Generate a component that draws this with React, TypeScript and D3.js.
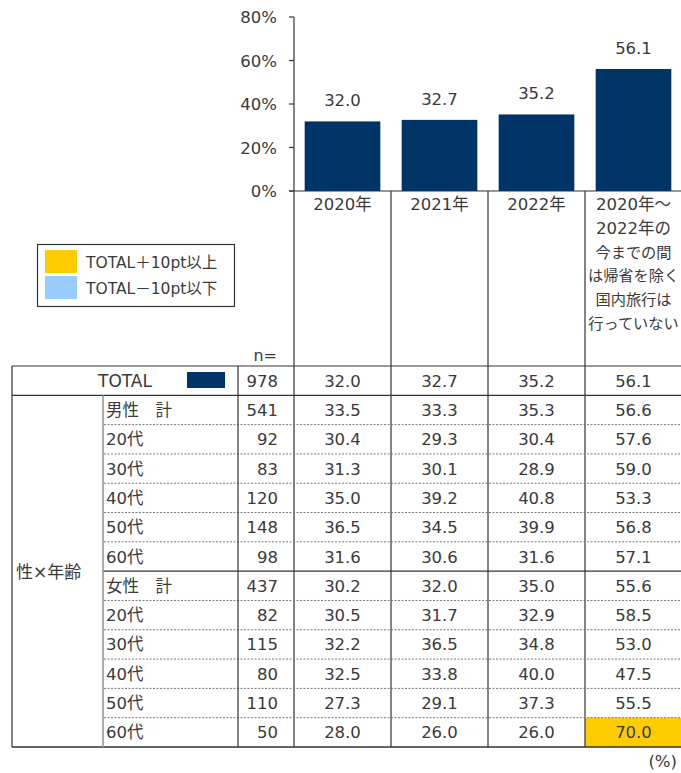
import React from "react";
import * as d3 from "d3";

const categories = ["2020年", "2021年", "2022年", "2020年～"];
const headerLines = [
  ["2020年"],
  ["2021年"],
  ["2022年"],
  ["2020年～", "2022年の", "今までの間", "は帰省を除く", "国内旅行は", "行っていない"],
];
const totalN = 978;
const totalValues = [32.0, 32.7, 35.2, 56.1];
const yTicks = [0, 20, 40, 60, 80];

const groupLabel = "性×年齢";
const rowLabels = ["男性\u3000計", "20代", "30代", "40代", "50代", "60代", "女性\u3000計", "20代", "30代", "40代", "50代", "60代"];
const rowN = [541, 92, 83, 120, 148, 98, 437, 82, 115, 80, 110, 50];
const col2020 = [33.5, 30.4, 31.3, 35.0, 36.5, 31.6, 30.2, 30.5, 32.2, 32.5, 27.3, 28.0];
const col2021 = [33.3, 29.3, 30.1, 39.2, 34.5, 30.6, 32.0, 31.7, 36.5, 33.8, 29.1, 26.0];
const col2022 = [35.3, 30.4, 28.9, 40.8, 39.9, 31.6, 35.0, 32.9, 34.8, 40.0, 37.3, 26.0];
const colNone = [56.6, 57.6, 59.0, 53.3, 56.8, 57.1, 55.6, 58.5, 53.0, 47.5, 55.5, 70.0];

const legendItems = [
  { label: "TOTAL＋10pt以上", color: "#FFCC00" },
  { label: "TOTAL－10pt以下", color: "#99CCFF" },
];

const W = 681;
const H = 773;
const NAVY = "#003366";
const TEXT = "#3a3a3a";
const LINE = "#333333";
const FONT = "'DejaVu Sans', Verdana, 'Noto Sans CJK JP', sans-serif";

export default function App() {
  const columns = [col2020, col2021, col2022, colNone];
  const x = d3.scaleBand<string>().domain(categories).range([294, 682]).paddingInner(0.22).paddingOuter(0.11);
  const step = x.step();
  const colLeft = (i: number) => 294 + i * step;
  const y = d3.scaleLinear().domain([0, 80]).range([191, 17]);

  const tableTop = 366;
  const tableBottom = 747;
  const rowH = (tableBottom - tableTop) / (rowLabels.length + 1);
  const rowTop = (i: number) => tableTop + rowH * (i + 1);
  const rowMid = (i: number) => rowTop(i) + rowH / 2;

  const cellColor = (v: number, ci: number) => {
    if (v >= totalValues[ci] + 10) return "#FFCC00";
    if (v <= totalValues[ci] - 10) return "#99CCFF";
    return null;
  };

  return (
    <svg width={W} height={H} style={{ position: "absolute", left: 0, top: 0, background: "#fff" }} fontFamily={FONT}>
      <rect x={0} y={0} width={W} height={H} fill="#fff" />
      {columns.map((col, ci) =>
        col.map((v, ri) => {
          const c = cellColor(v, ci);
          return c ? (
            <rect key={`h${ci}-${ri}`} x={colLeft(ci)} y={rowTop(ri)} width={step} height={rowH} fill={c} />
          ) : null;
        })
      )}
      <line x1={294} x2={294} y1={y(80)} y2={y(0)} stroke={LINE} strokeWidth={1.2} />
      <line x1={289} x2={W} y1={y(0)} y2={y(0)} stroke={LINE} strokeWidth={1.2} />
      {yTicks.map((t) => (
        <g key={t}>
          <line x1={289} x2={294} y1={y(t)} y2={y(t)} stroke={LINE} strokeWidth={1.2} />
          <text x={277} y={y(t) + 6} textAnchor="end" fontSize={16.5} fill={TEXT}>
            {t}%
          </text>
        </g>
      ))}
      {categories.map((c, i) => (
        <g key={c}>
          <rect x={x(c)} y={y(totalValues[i])} width={x.bandwidth()} height={y(0) - y(totalValues[i])} fill={NAVY} />
          <text x={(x(c) as number) + x.bandwidth() / 2} y={y(totalValues[i]) - 15} textAnchor="middle" fontSize={16.5} fill={TEXT}>
            {totalValues[i].toFixed(1)}
          </text>
        </g>
      ))}
      {categories.map((c, i) => (
        <line key={`v${i}`} x1={colLeft(i)} x2={colLeft(i)} y1={y(0)} y2={tableBottom} stroke={LINE} strokeWidth={1.2} />
      ))}
      {headerLines.map((lines, i) =>
        lines.map((l, li) => (
          <text key={`hl${i}-${li}`} x={colLeft(i) + step / 2} y={210 + li * 23.8} textAnchor="middle"
            fontSize={/\d/.test(l) ? 16.5 : 15.2} fill={TEXT}>
            {l}
          </text>
        ))
      )}
      <text x={277} y={361} textAnchor="end" fontSize={16} fill={TEXT}>n=</text>

      <rect x={37.5} y={244.5} width={197} height={62} fill="#fff" stroke={LINE} strokeWidth={1.2} />
      {legendItems.map((d, i) => (
        <g key={d.label}>
          <rect x={45} y={250 + i * 26} width={32} height={23} fill={d.color} />
          <text x={86} y={268 + i * 25.5} fontSize={15.5} fill={TEXT}>{d.label}</text>
        </g>
      ))}

      <line x1={12} x2={W} y1={tableTop} y2={tableTop} stroke={LINE} strokeWidth={1.2} />
      <line x1={12} x2={W} y1={rowTop(0)} y2={rowTop(0)} stroke={LINE} strokeWidth={1.2} />
      <line x1={103} x2={W} y1={rowTop(6)} y2={rowTop(6)} stroke={LINE} strokeWidth={1.2} />
      <line x1={12} x2={W} y1={tableBottom} y2={tableBottom} stroke={LINE} strokeWidth={1.5} />
      {rowLabels.map((_, i) =>
        i === 0 || i === 6 ? null : (
          <line key={`d${i}`} x1={104} x2={W} y1={rowTop(i)} y2={rowTop(i)} stroke="#777" strokeWidth={1} strokeDasharray="2,1.5" />
        )
      )}
      <line x1={12} x2={12} y1={tableTop} y2={tableBottom} stroke={LINE} strokeWidth={1.2} />
      <line x1={103} x2={103} y1={rowTop(0)} y2={tableBottom} stroke="#999" strokeWidth={1.6} />
      <line x1={238} x2={238} y1={tableTop} y2={tableBottom} stroke={LINE} strokeWidth={1.2} />

      <text x={125} y={tableTop + rowH / 2 + 6} textAnchor="middle" fontSize={17} fill={TEXT}>TOTAL</text>
      <rect x={187} y={372} width={38} height={16} fill={NAVY} />
      <text x={278} y={tableTop + rowH / 2 + 6} textAnchor="end" fontSize={16.5} fill={TEXT}>{totalN}</text>
      {totalValues.map((v, ci) => (
        <text key={`tv${ci}`} x={colLeft(ci) + step / 2} y={tableTop + rowH / 2 + 6} textAnchor="middle" fontSize={16.5} fill={TEXT}>
          {v.toFixed(1)}
        </text>
      ))}

      <text x={16} y={(rowTop(0) + tableBottom) / 2 + 7} fontSize={17} fill={TEXT}>{groupLabel}</text>

      {rowLabels.map((l, ri) => (
        <g key={`r${ri}`}>
          <text x={106} y={rowMid(ri) + 6} fontSize={16.5} fill={TEXT}>{l}</text>
          <text x={278} y={rowMid(ri) + 6} textAnchor="end" fontSize={16.5} fill={TEXT}>{rowN[ri]}</text>
          {columns.map((col, ci) => (
            <text key={`c${ci}`} x={colLeft(ci) + step / 2} y={rowMid(ri) + 6} textAnchor="middle" fontSize={16.5} fill={TEXT}>
              {col[ri].toFixed(1)}
            </text>
          ))}
        </g>
      ))}

      <text x={677} y={767} textAnchor="end" fontSize={16.5} fill={TEXT}>(%)</text>
    </svg>
  );
}
